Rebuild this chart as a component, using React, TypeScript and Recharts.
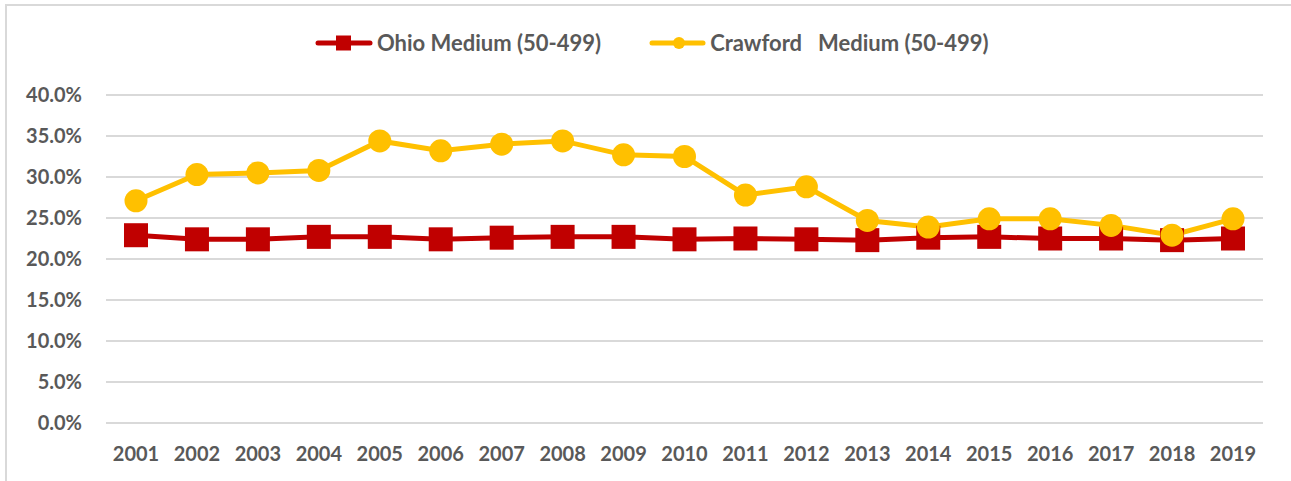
import { LineChart, Line, XAxis, YAxis, CartesianGrid } from "recharts";

const years = ["2001", "2002", "2003", "2004", "2005", "2006", "2007", "2008", "2009", "2010",
    "2011", "2012", "2013", "2014", "2015", "2016", "2017", "2018", "2019"];
const ohioMedium = [22.9, 22.4, 22.4, 22.7, 22.7, 22.4, 22.6, 22.7, 22.7, 22.4,
    22.5, 22.4, 22.3, 22.6, 22.7, 22.5, 22.5, 22.3, 22.5];
const crawfordMedium = [27.1, 30.3, 30.5, 30.8, 34.4, 33.2, 34.0, 34.4, 32.7, 32.5,
    27.8, 28.8, 24.7, 23.9, 24.9, 24.9, 24.1, 22.9, 24.9];
const yTicks = [0, 5, 10, 15, 20, 25, 30, 35, 40];

const RED = "#C00000";
const GOLD = "#FFC000";
const TEXT = "#595959";
const FONT = "Lato, 'Open Sans', sans-serif";

const data = years.map((year, i) => ({ year, ohio: ohioMedium[i], crawford: crawfordMedium[i] }));

// square marker for the Ohio series
const SquareDot = (props: any) => {
    const { cx, cy, index } = props;
    if (cx == null || cy == null) return null;
    return <rect key={`sq-${index}`} x={cx - 12} y={cy - 12} width={24} height={24} fill={RED} />;
};

const LegendBox = () => (
    <div style={{ position: "absolute", top: 30, left: 315, display: "flex", alignItems: "center", fontFamily: FONT, fontSize: 22, fontWeight: 700, color: TEXT, lineHeight: "26px" }}>
        <svg width={58} height={20} style={{ marginRight: 4 }}>
            <line x1={3} y1={10} x2={55} y2={10} stroke={RED} strokeWidth={5} strokeLinecap="round" />
            <rect x={21} y={2.5} width={15} height={15} fill={RED} />
        </svg>
        <span style={{ whiteSpace: "pre" }}>Ohio Medium (50-499)</span>
        <svg width={57} height={20} style={{ marginLeft: 48, marginRight: 4 }}>
            <line x1={3} y1={10} x2={54} y2={10} stroke={GOLD} strokeWidth={5} strokeLinecap="round" />
            <circle cx={30} cy={10} r={6} fill={GOLD} />
        </svg>
        <span style={{ whiteSpace: "pre" }}>Crawford   Medium (50-499)</span>
    </div>
);

const App = () => {
    return (
        <div style={{ position: "fixed", left: 0, top: 0, width: 1291, height: 481, overflow: "hidden", background: "#fff" }}>
            {/* frame of the chart area, only top and left edges are in view */}
            <svg width={1291} height={481} style={{ position: "absolute", left: 0, top: 0 }}>
                <path d="M6 481 L6 5 L1291 5" fill="none" stroke="#d9d9d9" strokeWidth={2} />
            </svg>
            <div style={{ position: "absolute", left: 0, top: 0 }}>
                <LineChart width={1291} height={481} data={data} margin={{ top: 95, right: 28, bottom: 0, left: 0 }}>
                    <CartesianGrid vertical={false} stroke="#d9d9d9" strokeWidth={2} />
                    <XAxis
                        dataKey="year"
                        height={58}
                        axisLine={false}
                        tickLine={false}
                        tickMargin={18}
                        padding={{ left: 30, right: 30 }}
                        interval={0}
                        tick={{ fontFamily: FONT, fontSize: 20, fontWeight: 700, fill: TEXT }}
                    />
                    <YAxis
                        width={106}
                        domain={[0, 40]}
                        ticks={yTicks}
                        axisLine={false}
                        tickLine={false}
                        tickMargin={18}
                        tickFormatter={(v: number) => `${v.toFixed(1)}%`}
                        tick={{ fontFamily: FONT, fontSize: 20, fontWeight: 700, fill: TEXT }}
                    />
                    <Line
                        dataKey="ohio"
                        name="Ohio Medium (50-499)"
                        stroke={RED}
                        strokeWidth={5}
                        dot={<SquareDot />}
                        isAnimationActive={false}
                    />
                    <Line
                        dataKey="crawford"
                        name="Crawford   Medium (50-499)"
                        stroke={GOLD}
                        strokeWidth={5}
                        dot={{ r: 11.5, fill: GOLD, stroke: "none" }}
                        isAnimationActive={false}
                    />
                </LineChart>
            </div>
            <LegendBox />
        </div>
    );
};

export default App;
